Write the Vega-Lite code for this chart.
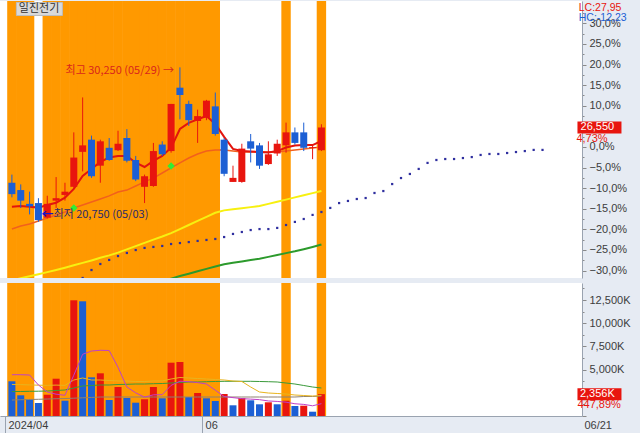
{
  "$schema": "https://vega.github.io/schema/vega-lite/v6.json",
  "padding": 0,
  "background": "#e6ebf3",
  "spacing": 4,
  "config": {
    "view": {"stroke": null, "fill": "white"},
    "font": "Noto Sans CJK KR",
    "axis": {"labelFont": "Liberation Sans", "labelFontSize": 11, "labelColor": "#3c3c3c", "tickColor": "#8a8a8a", "domainColor": "#9aa3b0", "grid": false, "title": null, "labelOverlap": false}
  },
  "datasets": {
    "k": [
      {"i":0,"o":23150,"h":23650,"l":22250,"c":22450,"d":"dn","v":3740,"vd":"dn","hl":true,"m5":21680,"m20":20300,"m60":17150,"vm5":4450,"vm20":3400,"vm60":2640,"vmg":1724},
      {"i":1,"o":22700,"h":23050,"l":21600,"c":22050,"d":"dn","v":2231,"vd":"dn","hl":true,"m5":21720,"m20":20490,"m60":17270,"vm5":4450,"vm20":3380,"vm60":2640,"vmg":1750},
      {"i":2,"o":21850,"h":22600,"l":21200,"c":21700,"d":"dn","v":1800,"vd":"dn","hl":true,"m5":21680,"m20":20610,"m60":17400,"vm5":4418,"vm20":3350,"vm60":2662,"vmg":1780},
      {"i":3,"o":21900,"h":22200,"l":20750,"c":20850,"d":"dn","v":1401,"vd":"dn","hl":false,"m5":21620,"m20":20800,"m60":17520,"vm5":3341,"vm20":3320,"vm60":2672,"vmg":1800},
      {"i":4,"o":21000,"h":22350,"l":20950,"c":21850,"d":"up","v":2295,"vd":"up","hl":true,"m5":21780,"m20":20980,"m60":17650,"vm5":2586,"vm20":3300,"vm60":2694,"vmg":1830},
      {"i":5,"o":22050,"h":23500,"l":21600,"c":22200,"d":"up","v":4019,"vd":"up","hl":true,"m5":21920,"m20":21170,"m60":17780,"vm5":2349,"vm20":3330,"vm60":2748,"vmg":1860},
      {"i":6,"o":22400,"h":23150,"l":22050,"c":22600,"d":"up","v":1649,"vd":"dn","hl":true,"m5":22230,"m20":21350,"m60":17920,"vm5":2233,"vm20":3300,"vm60":2802,"vmg":1880},
      {"i":7,"o":22900,"h":26250,"l":22850,"c":24700,"d":"up","v":12468,"vd":"up","hl":true,"m5":22770,"m20":21600,"m60":18070,"vm5":4400,"vm20":3879,"vm60":3017,"vmg":1920},
      {"i":8,"o":25050,"h":28400,"l":23850,"c":25450,"d":"up","v":12360,"vd":"dn","hl":true,"m5":23570,"m20":21780,"m60":18220,"vm5":6650,"vm20":4095,"vm60":3233,"vmg":1960},
      {"i":9,"o":25800,"h":26050,"l":23450,"c":23550,"d":"dn","v":4170,"vd":"dn","hl":true,"m5":24000,"m20":21970,"m60":18370,"vm5":7004,"vm20":3879,"vm60":3287,"vmg":2000},
      {"i":10,"o":24200,"h":25800,"l":23150,"c":25700,"d":"up","v":4601,"vd":"up","hl":true,"m5":24430,"m20":22150,"m60":18530,"vm5":7080,"vm20":3879,"vm60":3341,"vmg":2047},
      {"i":11,"o":25300,"h":25900,"l":24500,"c":24550,"d":"dn","v":1724,"vd":"dn","hl":true,"m5":24700,"m20":22340,"m60":18680,"vm5":7058,"vm20":3825,"vm60":3341,"vmg":2047},
      {"i":12,"o":25150,"h":26350,"l":25100,"c":25550,"d":"up","v":3125,"vd":"up","hl":true,"m5":24800,"m20":22580,"m60":18850,"vm5":5250,"vm20":3772,"vm60":3394,"vmg":2047},
      {"i":13,"o":25900,"h":26450,"l":24400,"c":24500,"d":"dn","v":1940,"vd":"dn","hl":true,"m5":24800,"m20":22700,"m60":19050,"vm5":3120,"vm20":3772,"vm60":3416,"vmg":2047},
      {"i":14,"o":24550,"h":24800,"l":23250,"c":23350,"d":"dn","v":1433,"vd":"dn","hl":true,"m5":24380,"m20":22950,"m60":19250,"vm5":2500,"vm20":3718,"vm60":3448,"vmg":2047},
      {"i":15,"o":22900,"h":23650,"l":21900,"c":23550,"d":"up","v":1800,"vd":"up","hl":true,"m5":24120,"m20":23200,"m60":19450,"vm5":2030,"vm20":3718,"vm60":3448,"vmg":2047},
      {"i":16,"o":22950,"h":25600,"l":22900,"c":25100,"d":"up","v":3125,"vd":"up","hl":true,"m5":24490,"m20":23440,"m60":19650,"vm5":2280,"vm20":3772,"vm60":3481,"vmg":2047},
      {"i":17,"o":25500,"h":25700,"l":24800,"c":24900,"d":"dn","v":1907,"vd":"dn","hl":true,"m5":24800,"m20":23750,"m60":19840,"m120":17100,"vm5":2300,"vm20":3772,"vm60":3502,"vmg":2047},
      {"i":18,"o":25100,"h":28000,"l":25000,"c":28000,"d":"up","v":5744,"vd":"up","hl":true,"m5":25310,"m20":24060,"m60":20050,"m120":17250,"vm5":3300,"vm20":3987,"vm60":3556,"vmg":2047},
      {"i":19,"o":29000,"h":30250,"l":27050,"c":28550,"d":"dn","v":5819,"vd":"up","hl":true,"m5":26460,"m20":24370,"m60":20300,"m120":17410,"vm5":3750,"vm20":4149,"vm60":3610,"vmg":2047},
      {"i":20,"o":28000,"h":28200,"l":26650,"c":27000,"d":"dn","v":2047,"vd":"dn","hl":true,"m5":26830,"m20":24670,"m60":20550,"m120":17550,"vm5":3700,"vm20":4095,"vm60":3664,"vmg":2047},
      {"i":21,"o":26950,"h":27650,"l":25600,"c":27250,"d":"up","v":2478,"vd":"up","hl":true,"m5":27050,"m20":24920,"m60":20800,"m120":17700,"vm5":3600,"vm20":4041,"vm60":3664,"vmg":2047},
      {"i":22,"o":27150,"h":28250,"l":27000,"c":28200,"d":"up","v":1907,"vd":"dn","hl":true,"m5":27260,"m20":25100,"m60":21050,"m120":17850,"vm5":3450,"vm20":3987,"vm60":3696,"vmg":2047},
      {"i":23,"o":27850,"h":28700,"l":26050,"c":26150,"d":"dn","v":1616,"vd":"dn","hl":true,"m5":26770,"m20":25170,"m60":21300,"m120":18000,"vm5":2780,"vm20":3933,"vm60":3718,"vmg":2047},
      {"i":24,"o":25800,"h":25900,"l":23550,"c":23700,"d":"dn","v":2371,"vd":"up","hl":false,"m5":25970,"m20":25170,"m60":21450,"m120":18140,"vm5":2100,"vm20":3879,"vm60":3739,"vmg":2047},
      {"i":25,"o":23200,"h":24200,"l":23200,"c":23450,"d":"up","v":1153,"vd":"dn","hl":false,"m5":25230,"m20":25100,"m60":21520,"m120":18230,"vm5":1980,"vm20":3772,"vm60":3739,"vmg":2047},
      {"i":26,"o":23200,"h":25550,"l":23150,"c":25250,"d":"up","v":1940,"vd":"up","hl":false,"m5":25100,"m20":25040,"m60":21580,"m120":18310,"vm5":1870,"vm20":3718,"vm60":3739,"vmg":2047},
      {"i":27,"o":25700,"h":26150,"l":24400,"c":25250,"d":"dn","v":1692,"vd":"dn","hl":false,"m5":25070,"m20":25040,"m60":21650,"m120":18390,"vm5":1820,"vm20":3125,"vm60":3739,"vmg":2047},
      {"i":28,"o":25450,"h":25600,"l":24000,"c":24200,"d":"dn","v":1261,"vd":"dn","hl":false,"m5":25040,"m20":25040,"m60":21720,"m120":18480,"vm5":1760,"vm20":2586,"vm60":3718,"vmg":2047},
      {"i":29,"o":24300,"h":25700,"l":24250,"c":24900,"d":"up","v":1476,"vd":"up","hl":false,"m5":25010,"m20":25040,"m60":21850,"m120":18590,"vm5":1620,"vm20":2478,"vm60":3696,"vmg":2047},
      {"i":30,"o":24950,"h":25800,"l":24800,"c":25550,"d":"up","v":1261,"vd":"dn","hl":false,"m5":25100,"m20":25040,"m60":21980,"m120":18700,"vm5":1570,"vm20":2425,"vm60":3664,"vmg":2047},
      {"i":31,"o":25450,"h":26850,"l":25000,"c":26250,"d":"up","v":1649,"vd":"up","hl":true,"m5":25320,"m20":25100,"m60":22110,"m120":18820,"vm5":1490,"vm20":2371,"vm60":3556,"vmg":2047},
      {"i":32,"o":26250,"h":26550,"l":25500,"c":25600,"d":"dn","v":1078,"vd":"dn","hl":false,"m5":25440,"m20":25170,"m60":22250,"m120":18930,"vm5":1320,"vm20":2263,"vm60":3448,"vmg":2047},
      {"i":33,"o":26250,"h":26850,"l":25100,"c":25300,"d":"dn","v":1110,"vd":"up","hl":false,"m5":25470,"m20":25230,"m60":22380,"m120":19060,"vm5":1250,"vm20":2209,"vm60":3287,"vmg":2100},
      {"i":34,"o":25300,"h":25500,"l":24600,"c":25350,"d":"up","v":463,"vd":"dn","hl":false,"m5":25470,"m20":25290,"m60":22510,"m120":19200,"vm5":1100,"vm20":2155,"vm60":3125,"vmg":2100},
      {"i":35,"o":25150,"h":26750,"l":25100,"c":26550,"d":"up","v":2356,"vd":"up","hl":true,"m5":25720,"m20":25350,"m60":22640,"m120":19350,"vm5":1330,"vm20":2209,"vm60":3017,"vmg":2155}
    ],
    "s": [
      {"i":8,"p":17290},{"i":9,"p":17780},{"i":10,"p":18150},{"i":11,"p":18400},{"i":12,"p":18640},{"i":13,"p":18830},{"i":14,"p":19010},{"i":15,"p":19140},{"i":16,"p":19200},{"i":17,"p":19260},{"i":18,"p":19380},{"i":19,"p":19440},{"i":20,"p":19500},{"i":21,"p":19570},{"i":22,"p":19630},{"i":23,"p":19690},{"i":24,"p":19810},{"i":25,"p":20000},{"i":26,"p":20120},{"i":27,"p":20240},{"i":28,"p":20300},{"i":29,"p":20300},{"i":30,"p":20370},{"i":31,"p":20550},{"i":32,"p":20740},{"i":33,"p":20920},{"i":34,"p":21170},{"i":35,"p":21350},{"i":36,"p":21600},{"i":37,"p":21900},{"i":38,"p":22030},{"i":39,"p":22150},{"i":40,"p":22210},{"i":41,"p":22520},{"i":42,"p":22640},{"i":43,"p":23070},{"i":44,"p":23440},{"i":45,"p":23690},{"i":46,"p":24000},{"i":47,"p":24370},{"i":48,"p":24550},{"i":49,"p":24610},{"i":50,"p":24610},{"i":51,"p":24670},{"i":52,"p":24730},{"i":53,"p":24860},{"i":54,"p":24920},{"i":55,"p":24920},{"i":56,"p":24980},{"i":57,"p":25040},{"i":58,"p":25100},{"i":59,"p":25170},{"i":60,"p":25170}
    ]
  },
  "vconcat": [
    {
      "width": 582,
      "height": 277,
      "data": {"name": "k"},
      "layer": [
        {
          "transform": [{"filter": "datum.hl"}],
          "mark": {"type": "bar", "size": 9.4, "color": "#ff9900"},
          "encoding": {
            "x": {"field": "i", "type": "quantitative", "scale": {"domain": [-0.78, 63.9], "nice": false, "zero": false}, "axis": null},
            "y": {"datum": 34333, "type": "quantitative", "scale": {"domain": [17289, 34333], "nice": false, "zero": false},
              "axis": {"orient": "right", "tickCount": 60,
                "values": [17745,18379,19013,19646,20280,20914,21548,22181,22815,23449,24083,24716,25350,25984,26618,27251,27885,28519,29153,29786,30420,31054,31688,32321,32955,33589],
                "labelExpr": "abs(round(datum.value/25350*40-40)) % 2 == 0 && abs(round(datum.value/25350*40-40)) <= 12 ? replace(format(round(datum.value/25350*40-40)*2.5, '.1f'), '.', ',') + '%' : ''",
                "tickSize": {"condition": {"test": "abs(round(datum.value/25350*40-40)) % 2 == 0", "value": 4}, "value": 2},
                "labelPadding": 3, "domain": true, "minExtent": 58, "maxExtent": 58, "labelFlush": false, "labelOverlap": false, "labelBound": false}},
            "y2": {"datum": 17289}
          }
        },
        {"mark": {"type": "line", "color": "#f7f010", "strokeWidth": 2, "clip": true},
         "encoding": {"x": {"field": "i", "type": "quantitative"}, "y": {"field": "m60", "type": "quantitative"}}},
        {"mark": {"type": "line", "color": "#2c9a2c", "strokeWidth": 2, "clip": true},
         "encoding": {"x": {"field": "i", "type": "quantitative"}, "y": {"field": "m120", "type": "quantitative"}}},
        {"mark": {"type": "line", "color": "#f2601c", "strokeWidth": 1.5, "clip": true},
         "encoding": {"x": {"field": "i", "type": "quantitative"}, "y": {"field": "m20", "type": "quantitative"}}},
        {"mark": {"type": "line", "color": "#e3140d", "strokeWidth": 2, "clip": true},
         "encoding": {"x": {"field": "i", "type": "quantitative"}, "y": {"field": "m5", "type": "quantitative"}}},
        {"data": {"name": "s"},
         "mark": {"type": "point", "shape": "square", "filled": true, "size": 5, "color": "#2f2f9f", "opacity": 1, "clip": true},
         "encoding": {"x": {"field": "i", "type": "quantitative"}, "y": {"field": "p", "type": "quantitative"}}},
        {"mark": {"type": "rule", "strokeWidth": 1},
         "encoding": {"x": {"field": "i", "type": "quantitative"}, "y": {"field": "l", "type": "quantitative"}, "y2": {"field": "h"},
           "color": {"field": "d", "type": "nominal", "scale": {"domain": ["up", "dn"], "range": ["#e8150e", "#1c5fd4"]}, "legend": null}}},
        {"mark": {"type": "bar", "size": 7},
         "encoding": {"x": {"field": "i", "type": "quantitative"}, "y": {"field": "o", "type": "quantitative"}, "y2": {"field": "c"},
           "color": {"field": "d", "type": "nominal", "scale": {"domain": ["up", "dn"], "range": ["#e8150e", "#1c5fd4"]}, "legend": null}}},
        {"data": {"values": [{"i": 7, "p": 21600}, {"i": 18, "p": 24180}]},
         "mark": {"type": "point", "shape": "diamond", "filled": true, "size": 55, "color": "#33ee33", "opacity": 1},
         "encoding": {"x": {"field": "i", "type": "quantitative"}, "y": {"field": "p", "type": "quantitative"}}},
        {"data": {"values": [{"i": 19, "p": 30250, "t": "최고 30,250 (05/29) →"}]},
         "mark": {"type": "text", "align": "right", "baseline": "middle", "dx": -6, "dy": 4, "fontSize": 11, "color": "#d9261c"},
         "encoding": {"x": {"field": "i", "type": "quantitative"}, "y": {"field": "p", "type": "quantitative"}, "text": {"field": "t"}}},
        {"data": {"values": [{"i": 3, "p": 20750, "t": "←"}]},
         "mark": {"type": "text", "align": "left", "baseline": "middle", "dx": 3, "dy": -7, "fontSize": 12, "fontWeight": "bold", "color": "#1515d0"},
         "encoding": {"x": {"field": "i", "type": "quantitative"}, "y": {"field": "p", "type": "quantitative"}, "text": {"field": "t"}}},
        {"data": {"values": [{"i": 3, "p": 20750, "t": "최저 20,750 (05/03)"}]},
         "mark": {"type": "text", "align": "left", "baseline": "middle", "dx": 15, "dy": -7, "fontSize": 11, "color": "#2b2b6b"},
         "encoding": {"x": {"field": "i", "type": "quantitative"}, "y": {"field": "p", "type": "quantitative"}, "text": {"field": "t"}}},
        {"data": {"values": [{"t": "일진전기"}]},
         "mark": {"type": "point", "shape": "M-1,-0.283L1,-0.283L1,0.283L-1,0.283Z", "size": 2116, "filled": true, "color": "#d9d9d9", "opacity": 1, "stroke": "#bdbdbd", "strokeWidth": 1},
         "encoding": {"x": {"datum": 3.11, "type": "quantitative"}, "y": {"datum": 33841, "type": "quantitative"}}},
        {"data": {"values": [{"t": "일진전기"}]},
         "mark": {"type": "text", "align": "left", "baseline": "middle", "fontSize": 11, "color": "#333333"},
         "encoding": {"x": {"datum": 0.78, "type": "quantitative"}, "y": {"datum": 33841, "type": "quantitative"}, "text": {"field": "t"}}},
        {"data": {"values": [{"t": "LC:27,95", "p": 33903, "col": "lc"}, {"t": "HC:-12,23", "p": 33287, "col": "hc"}]},
         "mark": {"type": "text", "align": "left", "baseline": "middle", "fontSize": 10.5, "font": "Liberation Sans"},
         "encoding": {"x": {"datum": 64.1, "type": "quantitative"}, "y": {"field": "p", "type": "quantitative"}, "text": {"field": "t"},
           "color": {"field": "col", "type": "nominal", "scale": {"domain": ["lc", "hc"], "range": ["#e03030", "#3a66c4"]}, "legend": null}}},
        {"data": {"values": [{"p": 26550, "t": "26,550", "q": "4,73%"}]},
         "layer": [
           {"mark": {"type": "point", "shape": "M-1,-0.273L1,-0.273L1,0.273L-1,0.273Z", "size": 1936, "filled": true, "color": "#e8150e", "opacity": 1},
            "encoding": {"x": {"datum": 66.44, "type": "quantitative"}, "y": {"field": "p", "type": "quantitative"}}},
           {"mark": {"type": "text", "align": "center", "baseline": "middle", "fontSize": 11, "font": "Liberation Sans", "color": "white"},
            "encoding": {"x": {"datum": 66.2, "type": "quantitative"}, "y": {"field": "p", "type": "quantitative"}, "text": {"field": "t"}}},
           {"mark": {"type": "text", "align": "center", "baseline": "middle", "fontSize": 11, "font": "Liberation Sans", "dy": 12, "color": "#e8150e"},
            "encoding": {"x": {"datum": 65.6, "type": "quantitative"}, "y": {"field": "p", "type": "quantitative"}, "text": {"field": "q"}}}
         ]}
      ]
    },
    {
      "width": 582,
      "height": 133,
      "data": {"name": "k"},
      "layer": [
        {
          "transform": [{"filter": "datum.hl"}],
          "mark": {"type": "bar", "size": 9.4, "color": "#ff9900"},
          "encoding": {
            "x": {"field": "i", "type": "quantitative", "scale": {"domain": [-0.78, 63.9], "nice": false, "zero": false},
              "axis": {"orient": "bottom", "values": [-0.78, 21.5], "labelExpr": "datum.value < 0 ? '2024/04' : '06'", "tickSize": 19, "labelPadding": -16, "labelAlign": "left", "labelBaseline": "top", "labelOffset": 3, "domain": true, "tickColor": "#9aa3b0", "minExtent": 19, "maxExtent": 19, "labelFlush": false, "labelOverlap": false, "labelBound": false}},
            "y": {"datum": 14332, "type": "quantitative", "scale": {"domain": [0, 14332], "nice": false, "zero": false},
              "axis": {"orient": "right", "tickCount": 40, "values": [0,1250,2500,3750,5000,6250,7500,8750,10000,11250,12500,13750],
                "labelExpr": "datum.value >= 5000 && datum.value % 2500 == 0 ? format(datum.value, ',') + 'K' : ''",
                "tickSize": {"condition": {"test": "datum.value % 2500 == 0", "value": 4}, "value": 2},
                "labelPadding": 3, "domain": true, "minExtent": 58, "maxExtent": 58, "labelFlush": false, "labelOverlap": false, "labelBound": false}},
            "y2": {"datum": 0}
          }
        },
        {"mark": {"type": "bar", "size": 7},
         "encoding": {"x": {"field": "i", "type": "quantitative"}, "y": {"field": "v", "type": "quantitative"}, "y2": {"datum": 0},
           "color": {"field": "vd", "type": "nominal", "scale": {"domain": ["up", "dn"], "range": ["#e8150e", "#1c5fd4"]}, "legend": null}}},
        {"mark": {"type": "line", "color": "#8f8170", "strokeWidth": 1},
         "encoding": {"x": {"field": "i", "type": "quantitative"}, "y": {"field": "vmg", "type": "quantitative"}}},
        {"mark": {"type": "line", "color": "#3a9a3a", "strokeWidth": 1},
         "encoding": {"x": {"field": "i", "type": "quantitative"}, "y": {"field": "vm60", "type": "quantitative"}}},
        {"mark": {"type": "line", "color": "#e8b41e", "strokeWidth": 1},
         "encoding": {"x": {"field": "i", "type": "quantitative"}, "y": {"field": "vm20", "type": "quantitative"}}},
        {"mark": {"type": "line", "color": "#c040c8", "strokeWidth": 1},
         "encoding": {"x": {"field": "i", "type": "quantitative"}, "y": {"field": "vm5", "type": "quantitative"}}},
        {"data": {"values": [{"v": 2356, "t": "2,356K", "q": "447,89%"}]},
         "layer": [
           {"mark": {"type": "point", "shape": "M-1,-0.273L1,-0.273L1,0.273L-1,0.273Z", "size": 1936, "filled": true, "color": "#e8150e", "opacity": 1},
            "encoding": {"x": {"datum": 66.44, "type": "quantitative"}, "y": {"field": "v", "type": "quantitative"}}},
           {"mark": {"type": "text", "align": "center", "baseline": "middle", "fontSize": 11, "font": "Liberation Sans", "color": "white"},
            "encoding": {"x": {"datum": 66.2, "type": "quantitative"}, "y": {"field": "v", "type": "quantitative"}, "text": {"field": "t"}}},
           {"mark": {"type": "text", "align": "center", "baseline": "middle", "fontSize": 11, "font": "Liberation Sans", "dy": 11, "color": "#e8150e"},
            "encoding": {"x": {"datum": 66.4, "type": "quantitative"}, "y": {"field": "v", "type": "quantitative"}, "text": {"field": "q"}}}
         ]},
        {"data": {"values": [{"t": "06/21"}]},
         "mark": {"type": "text", "align": "center", "baseline": "middle", "fontSize": 11, "font": "Liberation Sans", "color": "#404040"},
         "encoding": {"x": {"datum": 66.3, "type": "quantitative"}, "y": {"datum": -1080, "type": "quantitative"}, "text": {"field": "t"}}}
      ]
    }
  ]
}
